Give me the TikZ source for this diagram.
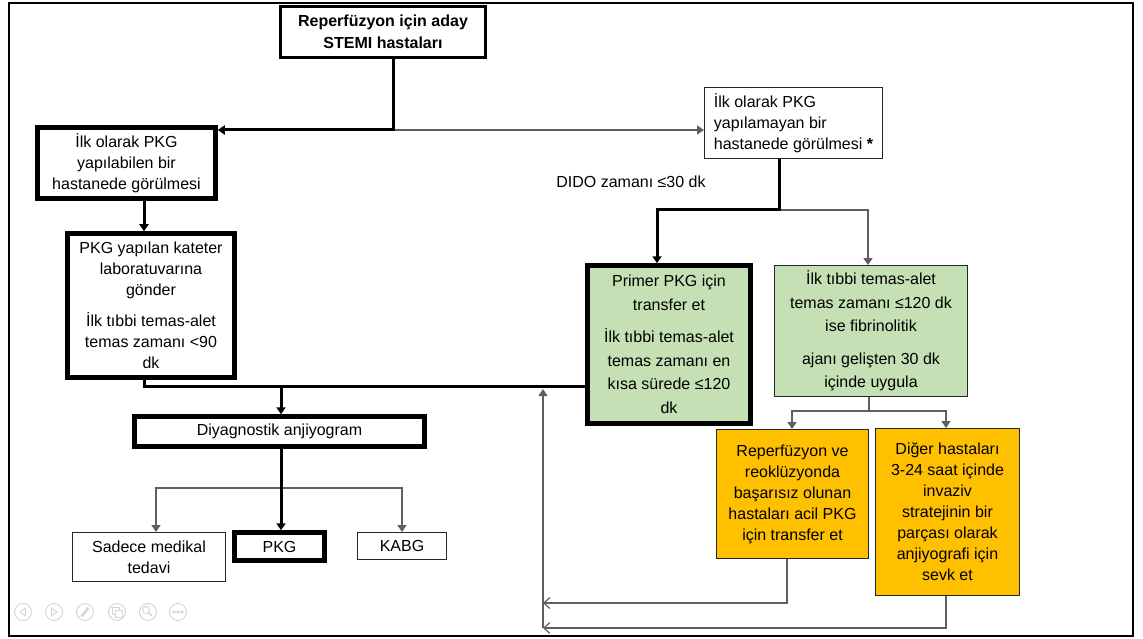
\documentclass[tikz,border=0pt]{standalone}
\usepackage{fontspec}
\setmainfont{Liberation Sans}
\usetikzlibrary{arrows.meta,calc}
\definecolor{boxgreen}{RGB}{197,224,180}
\definecolor{boxorange}{RGB}{255,192,0}
\definecolor{thinline}{RGB}{95,95,95}
\definecolor{icongray}{RGB}{212,212,212}
\begin{document}
\begin{tikzpicture}[x=1pt,y=-1pt,
  every node/.style={font=\fontsize{16}{21}\selectfont, align=center, inner sep=0pt},
  thickbox/.style={draw=black, line width=4.5pt},
  thinbox/.style={draw=black!85, line width=1pt},
  greentext/.style={font=\fontsize{16}{23.5}\selectfont},
  heavy/.style={draw=black, line width=3pt},
  light/.style={draw=thinline, line width=1.4pt},
  tip/.style={-{Triangle[length=7pt,width=9pt]}},
  opentip/.style={-{Straight Barb[length=6pt,width=11pt,line width=1.2pt]}}]
\fill[white] (0,0) rectangle (1143,639);
\useasboundingbox (0,0) rectangle (1143,639);
\draw[line width=2.2pt] (9,3) rectangle (1133,636);

% nodes
\node[thickbox, line width=3pt, minimum width=205pt, minimum height=51pt,
      font=\fontsize{16}{22}\selectfont\bfseries] (top) at (383,32) {Reperfüzyon için aday\\STEMI hastaları};
\node[thickbox, minimum width=178pt, minimum height=71pt] (L1) at (126.5,163) {İlk olarak PKG\\yapılabilen bir\\hastanede görülmesi};
\node[thickbox, minimum width=167pt, minimum height=144pt] (L2) at (151,305.5) {PKG yapılan kateter\\laboratuvarına\\gönder\\[10pt]İlk tıbbi temas-alet\\temas zamanı <90\\dk};
\node[thickbox, minimum width=290pt, minimum height=30pt] (D) at (279.5,431.5) {Diyagnostik anjiyogram};
\node[thinbox, minimum width=153pt, minimum height=49pt] (S) at (149,557) {Sadece medikal\\tedavi};
\node[thickbox, minimum width=90pt, minimum height=28pt] (P) at (279.5,546.5) {PKG};
\node[thinbox, minimum width=89pt, minimum height=27pt] (K) at (402,546) {KABG};
\node[thinbox, minimum width=178pt, minimum height=71pt, align=left] (R1) at (793.5,123) {İlk olarak PKG\\yapılamayan bir\\hastanede görülmesi \textbf{*}};
\node (dido) at (631,182) {DIDO zamanı ≤30 dk};
\node[thickbox, fill=boxgreen, greentext, minimum width=163pt, minimum height=158pt] (PR) at (669,344.5) {Primer PKG için\\transfer et\\[9pt]İlk tıbbi temas-alet\\temas zamanı en\\kısa sürede ≤120\\dk};
\node[thinbox, fill=boxgreen, greentext, minimum width=193pt, minimum height=131pt] (G2) at (871,331) {İlk tıbbi temas-alet\\temas zamanı ≤120 dk\\ise fibrinolitik\\[9pt]ajanı gelişten 30 dk\\içinde uygula};
\node[thinbox, fill=boxorange, minimum width=152pt, minimum height=129pt] (O1) at (792.5,494) {Reperfüzyon ve\\reoklüzyonda\\başarısız olunan\\hastaları acil PKG\\için transfer et};
\node[thinbox, fill=boxorange, minimum width=144pt, minimum height=167pt] (O2) at (947.5,512) {Diğer hastaları\\3-24 saat içinde\\invaziv\\stratejinin bir\\parçası olarak\\anjiyografi için\\sevk et};

% coordinates
\coordinate (j1) at (393,130);
\coordinate (xa) at (144,0);
\coordinate (j2) at (144,386);
\coordinate (j3) at (281,386);
\coordinate (j4) at (281,488);
\coordinate (bS) at (156,488);
\coordinate (bK) at (402,488);
\coordinate (j5) at (779,210);
\coordinate (bP) at (657,210);
\coordinate (bG) at (868,210);
\coordinate (j6) at (869,411);
\coordinate (bO1) at (792,411);
\coordinate (bO2) at (946,411);
\coordinate (c1) at (787,603);
\coordinate (e1) at (543,603);
\coordinate (c2) at (946,628);
\coordinate (e2) at (543,628);
\coordinate (up) at (543,389);

% connectors
\draw[light, tip] (j1) -- (R1.west |- j1);
\draw[heavy, tip] (top.south -| j1) -- (j1) -- (L1.east |- j1);
\draw[heavy, tip] (L1.south -| xa) -- (L2.north -| xa);
\draw[heavy] (L2.south -| j2) -- (j2) -- (PR.west |- j2);
\draw[heavy, tip] (j3) -- (D.north -| j3);
\draw[light, tip] (j4) -- (bS) -- (S.north -| bS);
\draw[light, tip] (j4) -- (bK) -- (K.north -| bK);
\draw[heavy, tip] (D.south -| j4) -- (P.north -| j4);
\draw[light, tip] (j5) -- (bG) -- (G2.north -| bG);
\draw[heavy, tip] (R1.south -| j5) -- (j5) -- (bP) -- (PR.north -| bP);
\draw[light, tip] (G2.south -| j6) -- (j6) -- (bO1) -- (O1.north -| bO1);
\draw[light, tip] (j6) -- (bO2) -- (O2.north -| bO2);
\draw[light, opentip] (O1.south -| c1) -- (c1) -- (e1);
\draw[light, opentip] (O2.south -| c2) -- (c2) -- (e2);
\draw[light, tip] (e2) -- (up);

% faint slideshow controls
\begin{scope}[draw=icongray, line width=0.9pt]
\foreach \cx in {23,54,85,117,148,178} \draw (\cx,612) circle (8.5);
\draw (25.5,608) -- (20,612) -- (25.5,616) -- cycle;
\draw (51.5,608) -- (57,612) -- (51.5,616) -- cycle;
\draw[line width=2.4pt] (81.5,616.5) -- (88.5,607.5);
\draw (112,607) rectangle (119,614);
\draw[fill=white] (115,610) rectangle (122,617);
\draw (146,610) circle (3.5);
\draw[line width=1.6pt] (148.5,612.5) -- (152,616);
\foreach \dx in {174,178,182} \draw (\dx,612) circle (1.3);
\end{scope}
\end{tikzpicture}
\end{document}
